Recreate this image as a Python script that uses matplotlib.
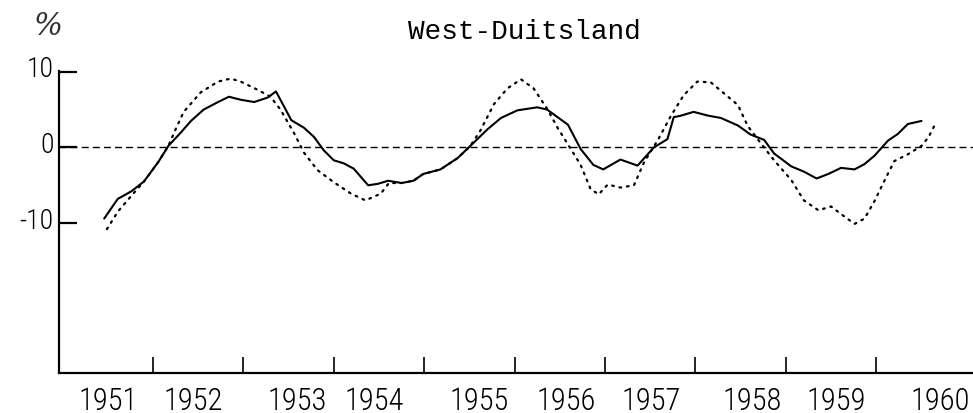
import matplotlib
matplotlib.use('Agg')
import matplotlib.pyplot as plt
from matplotlib import font_manager
from matplotlib.transforms import ScaledTranslation

# solid curve (years, percent)
t_solid = [1951.46, 1951.61, 1951.76, 1951.90, 1952.06, 1952.17, 1952.31, 1952.42,
           1952.56, 1952.72, 1952.84, 1952.97, 1953.12, 1953.27, 1953.36, 1953.45,
           1953.53, 1953.67, 1953.78, 1953.89, 1954.00, 1954.11, 1954.22, 1954.38,
           1954.49, 1954.60, 1954.75, 1954.88, 1954.99, 1955.18, 1955.37, 1955.51,
           1955.70, 1955.85, 1956.03, 1956.25, 1956.36, 1956.59, 1956.73, 1956.87,
           1956.98, 1957.17, 1957.36, 1957.54, 1957.69, 1957.76, 1957.84, 1957.98,
           1958.14, 1958.28, 1958.47, 1958.61, 1958.76, 1958.87, 1959.06, 1959.20,
           1959.34, 1959.47, 1959.61, 1959.76, 1959.87, 1959.98, 1960.13, 1960.24,
           1960.35, 1960.50]
solid = [-9.4, -6.8, -5.8, -4.5, -1.9, 0.2, 2.0, 3.5,
         5.0, 6.0, 6.7, 6.3, 6.0, 6.6, 7.4, 5.4,
         3.6, 2.6, 1.4, -0.4, -1.7, -2.1, -2.8, -5.0,
         -4.8, -4.4, -4.7, -4.4, -3.5, -2.9, -1.4, 0.2,
         2.4, 3.9, 4.9, 5.3, 5.0, 3.0, -0.2, -2.3,
         -2.9, -1.6, -2.4, 0.0, 1.1, 4.0, 4.2, 4.7,
         4.2, 3.9, 2.9, 1.7, 1.0, -0.8, -2.5, -3.2,
         -4.1, -3.5, -2.7, -2.9, -2.2, -1.1, 0.9, 1.8,
         3.1, 3.5]

# dotted curve (years, percent)
t_dot = [1951.49, 1951.61, 1951.76, 1951.90, 1952.06, 1952.17, 1952.25, 1952.34,
         1952.53, 1952.72, 1952.86, 1952.97, 1953.16, 1953.30, 1953.41, 1953.56,
         1953.67, 1953.82, 1954.00, 1954.19, 1954.35, 1954.52, 1954.61, 1954.75,
         1954.88, 1954.99, 1955.18, 1955.37, 1955.51, 1955.62, 1955.77, 1955.92,
         1956.07, 1956.21, 1956.36, 1956.48, 1956.59, 1956.73, 1956.84, 1956.93,
         1957.03, 1957.17, 1957.32, 1957.43, 1957.59, 1957.73, 1957.87, 1958.02,
         1958.17, 1958.31, 1958.47, 1958.58, 1958.72, 1958.87, 1959.06, 1959.20,
         1959.36, 1959.50, 1959.61, 1959.76, 1959.87, 1959.98, 1960.09, 1960.20,
         1960.35, 1960.50, 1960.58, 1960.64]
dotted = [-10.8, -8.5, -6.4, -4.5, -1.9, 0.2, 2.4, 4.7,
          7.3, 8.7, 9.1, 8.7, 7.6, 6.7, 5.0, 1.9,
          -0.7, -3.0, -4.6, -6.1, -7.0, -6.1, -4.7, -4.7,
          -4.4, -3.5, -2.9, -1.4, 0.2, 2.2, 5.7, 7.8,
          9.0, 7.8, 5.1, 2.5, 0.4, -2.3, -5.5, -6.2,
          -4.9, -5.3, -5.0, -2.0, 1.1, 4.2, 6.9, 8.7,
          8.6, 7.2, 5.6, 2.8, 0.6, -1.7, -4.3, -7.0,
          -8.3, -7.8, -8.8, -10.1, -9.4, -7.1, -4.4, -1.8,
          -0.9, 0.2, 1.4, 2.8]

years = list(range(1951, 1961))
year_labels = [str(y) for y in years]
yticks = [10, 0, -10]

# typed labels sit a bit off the middle of each year
label_shift = [0.50, 0.45, 0.59, 0.45, 0.61, 0.57, 0.51, 0.63, 0.56, 0.71]

installed = {f.name for f in font_manager.fontManager.ttflist}
narrow = 'DejaVu Sans'
for name in ['Liberation Sans Narrow', 'Roboto Condensed', 'Open Sans Condensed']:
    if name in installed:
        narrow = name
        break

fig = plt.figure(figsize=(9.73, 4.14), dpi=100)
ax = fig.add_axes([0.0606, 0.0966, 0.9394, 0.7295])

ax.axhline(0, color='black', lw=1.0, ls=(0, (5, 3)))
ax.plot(t_solid, solid, color='black', lw=1.5, solid_capstyle='round')
ax.plot(t_dot, dotted, color='black', lw=1.6, ls=(0, (0.8, 2.6)),
        dash_capstyle='round')

ax.set_xlim(1950.96, 1961.07)
ax.set_ylim(-29.8, 10.1)

for side in ['top', 'right']:
    ax.spines[side].set_visible(False)
for side in ['left', 'bottom']:
    ax.spines[side].set_linewidth(1.6)

# year boundaries get ticks, labels go on invisible minor ticks
ax.set_xticks(years[1:])
ax.set_xticklabels([])
ax.set_xticks([y + s for y, s in zip(years, label_shift)], minor=True)
ax.set_xticklabels(year_labels, minor=True, family=narrow, fontsize=22,
                   fontweight='light')
ax.tick_params(axis='x', which='major', direction='in', length=11.5, width=1.2)
ax.tick_params(axis='x', which='minor', length=0, pad=9)

ax.set_yticks(yticks)
ax.set_yticklabels([str(v) for v in yticks], family=narrow, fontsize=20,
                   fontweight='light')
ax.tick_params(axis='y', direction='in', length=13, width=1.6, pad=4)
for lab in ax.get_yticklabels():
    lab.set_transform(lab.get_transform() +
                      ScaledTranslation(0, 0.06, fig.dpi_scale_trans))

fig.text(0.539, 0.922, 'West-Duitsland', family='Liberation Mono',
         fontsize=20, ha='center', va='center')
fig.text(0.05, 0.937, '%', family='DejaVu Serif', style='italic',
         fontsize=22, ha='center', va='center', color='#333333')

fig.savefig('out.png', dpi=100)
